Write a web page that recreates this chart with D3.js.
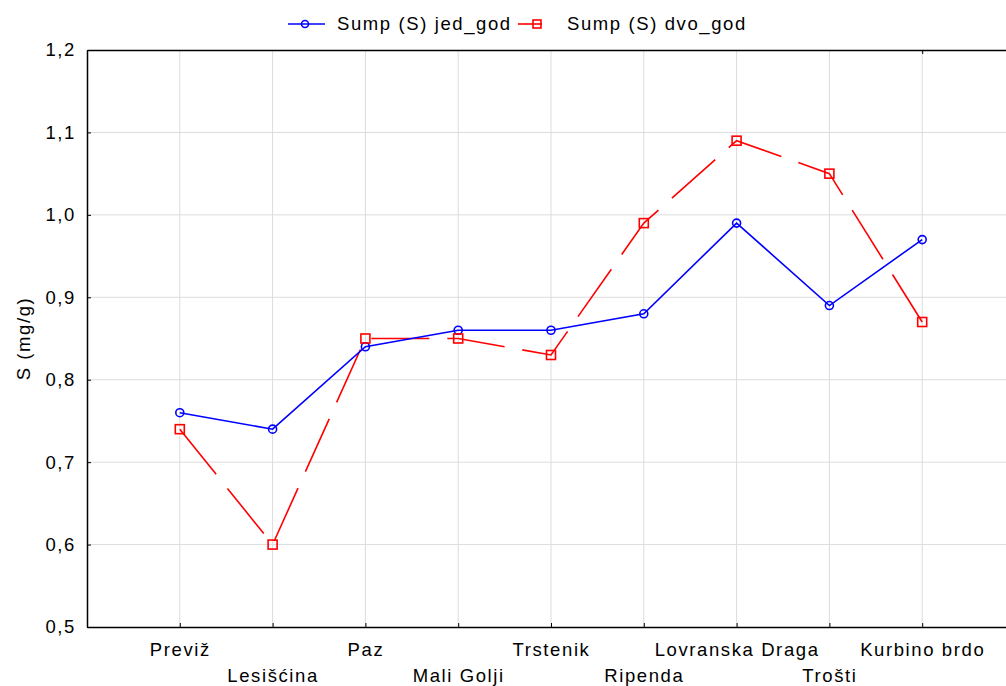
<!DOCTYPE html>
<html>
<head>
<meta charset="utf-8">
<script src="https://cdn.jsdelivr.net/npm/d3@7"></script>
<style>
  body { margin: 0; background: #fff; }
  svg { font-family: 'Liberation Sans', Arial, sans-serif; }
  .lbl { font-size: 18.5px; letter-spacing: 1.6px; fill: #000; }
</style>
</head>
<body>
<svg id="chart" width="1006" height="686"></svg>
<script>
const sites = ['Previž', 'Lesišćina', 'Paz', 'Mali Golji', 'Trstenik', 'Ripenda', 'Lovranska Draga', 'Trošti', 'Kurbino brdo'];
const jedGod = [0.76, 0.74, 0.84, 0.86, 0.86, 0.88, 0.99, 0.89, 0.97];
const dvoGod = [0.74, 0.60, 0.85, 0.85, 0.83, 0.99, 1.09, 1.05, 0.87];
const yTicks = [0.5, 0.6, 0.7, 0.8, 0.9, 1.0, 1.1, 1.2];

const svg = d3.select('#chart');
const plotLeft = 87, plotTop = 50, plotBottom = 627, plotRight = 1015;

const x = d3.scalePoint().domain(sites).range([plotLeft, plotRight]).padding(1);
const y = d3.scaleLinear().domain([0.5, 1.2]).range([plotBottom, plotTop]);
const fmt = d => d3.format('.1f')(d).replace('.', ',');

// grid
svg.append('g').selectAll('line')
  .data(yTicks.slice(1, -1))
  .enter().append('line')
  .attr('x1', plotLeft).attr('x2', plotRight)
  .attr('y1', d => y(d)).attr('y2', d => y(d))
  .attr('stroke', '#dcdcdc').attr('stroke-width', 1);
svg.append('g').selectAll('line')
  .data(sites)
  .enter().append('line')
  .attr('x1', d => x(d)).attr('x2', d => x(d))
  .attr('y1', plotTop).attr('y2', plotBottom)
  .attr('stroke', '#dcdcdc').attr('stroke-width', 1);

// axes
const yAxis = svg.append('g')
  .attr('transform', `translate(${plotLeft},0)`)
  .call(d3.axisLeft(y).tickValues(yTicks).tickFormat(fmt).tickSizeInner(-4).tickSizeOuter(0).tickPadding(11));
yAxis.select('.domain').attr('stroke', '#000').attr('stroke-width', 1.5);
yAxis.selectAll('text').attr('class', 'lbl').attr('font-size', null).attr('font-family', null);
yAxis.attr('font-size', null).attr('font-family', null);

const xAxis = svg.append('g')
  .attr('transform', `translate(0,${plotBottom})`)
  .call(d3.axisBottom(x).tickSizeInner(-4).tickSizeOuter(0).tickPadding(0));
xAxis.attr('font-size', null).attr('font-family', null);
xAxis.select('.domain').attr('stroke', '#000').attr('stroke-width', 1.5);
xAxis.selectAll('text')
  .attr('class', 'lbl')
  .attr('y', (d, i) => (i % 2 === 0 ? 29 : 55))
  .attr('dy', 0);

const xTop = svg.append('g')
  .attr('transform', `translate(0,${plotTop})`)
  .call(d3.axisTop(x).tickValues([sites[sites.length - 1]]).tickSizeInner(-4).tickSizeOuter(0).tickFormat(''));
xTop.select('.domain').attr('stroke', '#000').attr('stroke-width', 1.5);

// y title
svg.append('text')
  .attr('class', 'lbl')
  .attr('transform', `translate(30,${(plotTop + plotBottom) / 2}) rotate(-90)`)
  .attr('text-anchor', 'middle')
  .text('S (mg/g)');

// lines
const line = d3.line().x((d, i) => x(sites[i])).y(d => y(d));

svg.append('path')
  .datum(dvoGod)
  .attr('d', line)
  .attr('fill', 'none')
  .attr('stroke', '#ff0000')
  .attr('stroke-width', 1.6)
  .attr('stroke-dasharray', '58,18');

svg.append('path')
  .datum(jedGod)
  .attr('d', line)
  .attr('fill', 'none')
  .attr('stroke', '#0000ff')
  .attr('stroke-width', 1.6);

svg.append('g').selectAll('circle')
  .data(jedGod)
  .enter().append('circle')
  .attr('cx', (d, i) => x(sites[i]))
  .attr('cy', d => y(d))
  .attr('r', 4)
  .attr('fill', 'none')
  .attr('stroke', '#0000ff')
  .attr('stroke-width', 1.6);

svg.append('g').selectAll('rect')
  .data(dvoGod)
  .enter().append('rect')
  .attr('x', (d, i) => x(sites[i]) - 4.5)
  .attr('y', d => y(d) - 4.5)
  .attr('width', 9).attr('height', 9)
  .attr('fill', 'none')
  .attr('stroke', '#ff0000')
  .attr('stroke-width', 1.6);

// legend
const legend = svg.append('g');
legend.append('line').attr('x1', 288).attr('x2', 325).attr('y1', 24).attr('y2', 24)
  .attr('stroke', '#0000ff').attr('stroke-width', 1.6);
legend.append('circle').attr('cx', 305).attr('cy', 24).attr('r', 3.5)
  .attr('fill', 'none').attr('stroke', '#0000ff').attr('stroke-width', 1.6);
legend.append('text').attr('class', 'lbl').attr('x', 337).attr('y', 30).text('Sump (S) jed_god');
legend.append('line').attr('x1', 518).attr('x2', 542).attr('y1', 24).attr('y2', 24)
  .attr('stroke', '#ff0000').attr('stroke-width', 1.6);
legend.append('rect').attr('x', 533).attr('y', 20).attr('width', 8).attr('height', 8)
  .attr('fill', 'none').attr('stroke', '#ff0000').attr('stroke-width', 1.6);
legend.append('text').attr('class', 'lbl').attr('x', 567).attr('y', 30).text('Sump (S) dvo_god');
</script>
</body>
</html>
